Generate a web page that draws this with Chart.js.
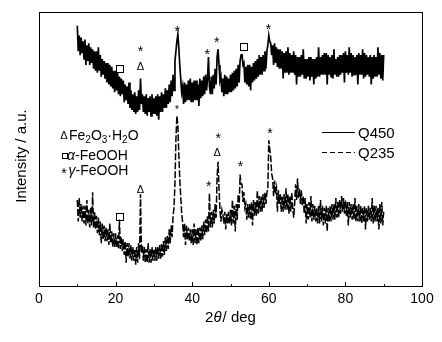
<!DOCTYPE html>
<html>
<head>
<meta charset="utf-8">
<script src="https://cdn.jsdelivr.net/npm/chart.js@4.4.0/dist/chart.umd.min.js"></script>
<style>
  html, body { margin: 0; padding: 0; background: #fff; }
  #wrap { width: 442px; height: 342px; }
</style>
</head>
<body>
<div id="wrap"><canvas id="xrdChart" width="442" height="342"></canvas></div>
<script>
// scan grid, degrees 2-theta
const scanStart = 10;
const scanStep = 0.25;

// Q450 intensity (a.u.), 4 readings per degree from 10 to 90
const q450 = [
  266, 240, 256, 236,
  254, 238, 250, 232,
  252, 226, 246, 230,
  248, 226, 244, 228,
  242, 222, 240, 220,
  240, 218, 244, 220,
  236, 214, 232, 216,
  230, 212, 228, 208,
  228, 206, 226, 204,
  224, 202, 220, 198,
  220, 200, 218, 196,
  214, 194, 212, 196,
  210, 188, 206, 190,
  204, 186, 208, 182,
  200, 180, 196, 178,
  198, 176, 194, 178,
  200, 180, 212, 186,
  196, 178, 194, 176,
  196, 174, 192, 178,
  194, 174, 196, 176,
  192, 176, 194, 174,
  196, 170, 194, 178,
  198, 178, 196, 182,
  202, 182, 200, 186,
  206, 188, 210, 194,
  216, 200, 230, 240,
  250, 257, 244, 226,
  212, 198, 204, 186,
  208, 188, 206, 190,
  210, 190, 212, 188,
  208, 188, 210, 190,
  210, 190, 206, 184,
  212, 192, 210, 194,
  214, 196, 216, 200,
  212, 234, 204, 196,
  214, 196, 216, 202,
  222, 206, 234, 242,
  226, 210, 214, 198,
  212, 194, 216, 196,
  214, 196, 212, 198,
  216, 198, 218, 200,
  220, 202, 222, 204,
  226, 208, 230, 236,
  237, 226, 228, 208,
  224, 206, 226, 204,
  226, 200, 224, 208,
  228, 210, 230, 212,
  232, 214, 236, 216,
  234, 216, 236, 220,
  240, 222, 240, 246,
  256, 250, 248, 236,
  246, 226, 248, 228,
  244, 224, 242, 222,
  242, 222, 240, 212,
  238, 218, 240, 218,
  244, 216, 238, 218,
  236, 218, 240, 216,
  236, 206, 234, 214,
  234, 214, 236, 216,
  242, 212, 232, 212,
  232, 214, 234, 210,
  234, 214, 232, 206,
  232, 212, 234, 214,
  244, 214, 234, 216,
  236, 216, 238, 216,
  238, 206, 236, 216,
  234, 214, 236, 212,
  242, 216, 232, 214,
  234, 214, 236, 216,
  236, 218, 238, 208,
  240, 218, 236, 216,
  244, 218, 238, 214,
  236, 216, 234, 216,
  236, 206, 238, 216,
  236, 216, 242, 212,
  238, 214, 236, 216,
  234, 214, 236, 206,
  234, 212, 236, 214,
  234, 214, 244, 216,
  238, 212, 236, 210,
  236
];

// Q235 intensity (a.u.), same grid
const q235 = [
  88, 66, 90, 70,
  84, 66, 82, 64,
  82, 62, 88, 64,
  78, 60, 80, 62,
  96, 60, 76, 58,
  72, 54, 70, 52,
  66, 44, 64, 48,
  62, 46, 60, 46,
  58, 42, 64, 44,
  56, 40, 54, 40,
  54, 40, 52, 38,
  68, 38, 50, 36,
  48, 32, 46, 24,
  44, 30, 44, 28,
  42, 26, 40, 26,
  38, 22, 40, 24,
  44, 28, 94, 34,
  42, 26, 40, 24,
  38, 24, 44, 24,
  38, 24, 40, 26,
  38, 26, 40, 26,
  40, 28, 42, 28,
  44, 30, 46, 32,
  50, 36, 52, 38,
  58, 44, 62, 50,
  72, 80, 105, 150,
  174, 165, 135, 110,
  92, 75, 65, 50,
  64, 42, 62, 48,
  60, 46, 58, 44,
  58, 42, 64, 44,
  58, 42, 60, 44,
  60, 46, 62, 48,
  66, 52, 68, 54,
  72, 56, 95, 60,
  76, 60, 78, 64,
  84, 70, 112, 127,
  100, 78, 66, 78,
  74, 64, 76, 58,
  74, 64, 76, 64,
  78, 62, 88, 64,
  82, 56, 84, 68,
  94, 80, 114, 104,
  104, 86, 96, 80,
  84, 68, 84, 70,
  84, 68, 86, 62,
  88, 72, 86, 72,
  98, 74, 92, 76,
  92, 76, 94, 80,
  96, 84, 95, 100,
  149, 140, 132, 115,
  110, 92, 108, 94,
  100, 76, 98, 84,
  94, 76, 92, 76,
  94, 78, 100, 78,
  94, 74, 92, 76,
  96, 80, 70, 84,
  104, 88, 110, 90,
  100, 84, 98, 82,
  92, 74, 90, 64,
  84, 68, 86, 70,
  92, 66, 84, 68,
  82, 66, 80, 64,
  82, 64, 88, 66,
  82, 62, 80, 64,
  82, 56, 80, 66,
  82, 66, 84, 68,
  84, 68, 90, 70,
  86, 70, 88, 74,
  92, 76, 90, 74,
  88, 72, 86, 62,
  86, 70, 84, 68,
  84, 68, 90, 66,
  82, 66, 84, 66,
  82, 64, 80, 66,
  82, 58, 80, 66,
  82, 68, 80, 66,
  90, 64, 82, 66,
  82, 66, 80, 58,
  84, 64, 86, 62,
  76
];

// phase marks over the peaks
const markSymbol = ['sq', 'star', 'tri', 'star', 'star', 'star', 'sq', 'star',
                    'sq', 'tri', 'starSmall', 'star', 'tri', 'star', 'star', 'star'];
const markDeg = [21.0, 26.5, 26.5, 36.1, 43.9, 46.4, 53.5, 59.9,
                 21.0, 26.5, 36.0, 44.3, 46.5, 46.8, 52.6, 60.3];
const markLevel = [222.7, 243.7, 224.5, 264, 240, 252, 244.5, 265.7,
                   71.3, 99.7, 182.7, 105.3, 137.5, 154.3, 125.7, 159];

// phase key
const phaseSymbols = ['tri', 'sq', 'star'];
const phaseNames = [
  [['Fe'], ['2', 'sub'], ['O'], ['3', 'sub'], ['\u00b7'], ['H'], ['2', 'sub'], ['O']],
  [['\u03b1', 'it'], ['-FeOOH']],
  [['\u03b3', 'it'], ['-FeOOH']]
];

const seriesNames = ['Q450', 'Q235'];
const FONT = '"Liberation Sans", Arial, sans-serif';

const twoTheta = q450.map((_, i) => scanStart + i * scanStep);

function toPoints(vals) {
  return vals.map((v, i) => ({ x: twoTheta[i], y: v }));
}

function drawSymbol(ctx, sym, x, y, small) {
  ctx.save();
  ctx.fillStyle = '#000';
  ctx.strokeStyle = '#000';
  ctx.lineWidth = 1;
  ctx.textAlign = 'center';
  ctx.textBaseline = 'alphabetic';
  if (sym === 'sq') {
    const s = small ? 5 : 7;
    ctx.strokeRect(Math.round(x - s / 2) + 0.5, Math.round(y - s / 2) + 0.5, s, s);
  } else if (sym === 'tri') {
    const fs = 11;
    ctx.font = fs + 'px ' + FONT;
    ctx.fillText('\u0394', x, y + 0.36 * fs);
  } else {
    const fs = sym === 'starSmall' ? 10 : 14;
    ctx.font = fs + 'px ' + FONT;
    ctx.fillText('*', x, y + 0.57 * fs);
  }
  ctx.restore();
}

function drawRich(ctx, x, y, parts, size) {
  let cx = x;
  for (const p of parts) {
    const kind = p[1];
    if (kind === 'sub') {
      ctx.font = Math.round(size * 0.68) + 'px ' + FONT;
      ctx.fillText(p[0], cx, y + 3);
    } else if (kind === 'it') {
      ctx.font = 'italic ' + size + 'px ' + FONT;
      ctx.fillText(p[0], cx, y);
    } else {
      ctx.font = size + 'px ' + FONT;
      ctx.fillText(p[0], cx, y);
    }
    cx += ctx.measureText(p[0]).width;
  }
}

const decorPlugin = {
  id: 'decor',
  afterDraw(chart) {
    const ctx = chart.ctx;
    const a = chart.chartArea;
    const xs = chart.scales.x;
    const ys = chart.scales.y;
    ctx.save();

    // frame
    ctx.strokeStyle = '#000';
    ctx.lineWidth = 1;
    ctx.strokeRect(Math.round(a.left) + 0.5, Math.round(a.top) + 0.5,
                   Math.round(a.right - a.left), Math.round(a.bottom - a.top));

    // inward ticks on the bottom axis
    xs.ticks.forEach(t => {
      const px = Math.round(xs.getPixelForValue(t.value)) + 0.5;
      const len = t.value % 20 === 0 ? 4 : 2;
      ctx.beginPath();
      ctx.moveTo(px, a.bottom);
      ctx.lineTo(px, a.bottom - len);
      ctx.stroke();
    });

    // phase marks
    markSymbol.forEach((s, i) => {
      drawSymbol(ctx, s, xs.getPixelForValue(markDeg[i]), ys.getPixelForValue(markLevel[i]), false);
    });

    // phase key
    ctx.fillStyle = '#000';
    ctx.textAlign = 'left';
    ctx.textBaseline = 'alphabetic';
    const keyBase = [140, 160, 175];
    const keyText = [69, 67, 68.5];
    phaseSymbols.forEach((s, i) => {
      drawSymbol(ctx, s, 64, keyBase[i] - 5, true);
      drawRich(ctx, keyText[i], keyBase[i], phaseNames[i], 14);
    });

    // series key
    chart.data.datasets.forEach((ds, i) => {
      const ly = 132.5 + i * 20;
      ctx.beginPath();
      ctx.setLineDash(i === 1 ? [5, 3] : []);
      ctx.lineWidth = 1;
      ctx.moveTo(322, ly);
      ctx.lineTo(355, ly);
      ctx.stroke();
      ctx.setLineDash([]);
      ctx.font = '15px ' + FONT;
      ctx.fillText(ds.label, 358, ly + 5.5);
    });

    // axis titles
    const t1 = '2', t2 = '\u03b8', t3 = '/ deg';
    ctx.font = '15px ' + FONT;
    const w1 = ctx.measureText(t1).width;
    const w3 = ctx.measureText(t3).width;
    ctx.font = 'italic 15px ' + FONT;
    const w2 = ctx.measureText(t2).width;
    let tx = (a.left + a.right) / 2 - (w1 + w2 + w3 + 1) / 2;
    ctx.font = '15px ' + FONT;
    ctx.fillText(t1, tx, 322);
    tx += w1;
    ctx.font = 'italic 15px ' + FONT;
    ctx.fillText(t2, tx, 322);
    tx += w2 + 1;
    ctx.font = '15px ' + FONT;
    ctx.fillText(t3, tx, 322);

    ctx.translate(26, 156);
    ctx.rotate(-Math.PI / 2);
    ctx.textAlign = 'center';
    ctx.fillText('Intensity / a.u.', 0, 0);
    ctx.restore();
  }
};

new Chart(document.getElementById('xrdChart'), {
  type: 'line',
  data: {
    datasets: [
      {
        label: seriesNames[0],
        data: toPoints(q450),
        borderColor: '#000',
        borderWidth: 1.7,
        pointRadius: 0,
        fill: false,
        tension: 0
      },
      {
        label: seriesNames[1],
        data: toPoints(q235),
        borderColor: '#000',
        borderWidth: 1.5,
        borderDash: [7, 2],
        pointRadius: 0,
        fill: false,
        tension: 0
      }
    ]
  },
  options: {
    responsive: false,
    animation: false,
    devicePixelRatio: 1,
    layout: { padding: { left: 39, right: 20, top: 12, bottom: 29 } },
    plugins: {
      legend: { display: false },
      tooltip: { enabled: false }
    },
    scales: {
      x: {
        type: 'linear',
        min: 0,
        max: 100,
        grid: { display: false, drawTicks: false },
        border: { display: false },
        ticks: {
          stepSize: 10,
          autoSkip: false,
          maxRotation: 0,
          padding: 5,
          color: '#000',
          font: { size: 14, family: FONT },
          callback: v => (v % 20 === 0 ? v : '')
        }
      },
      y: {
        display: false,
        min: 0,
        max: 280
      }
    }
  },
  plugins: [decorPlugin]
});
</script>
</body>
</html>
